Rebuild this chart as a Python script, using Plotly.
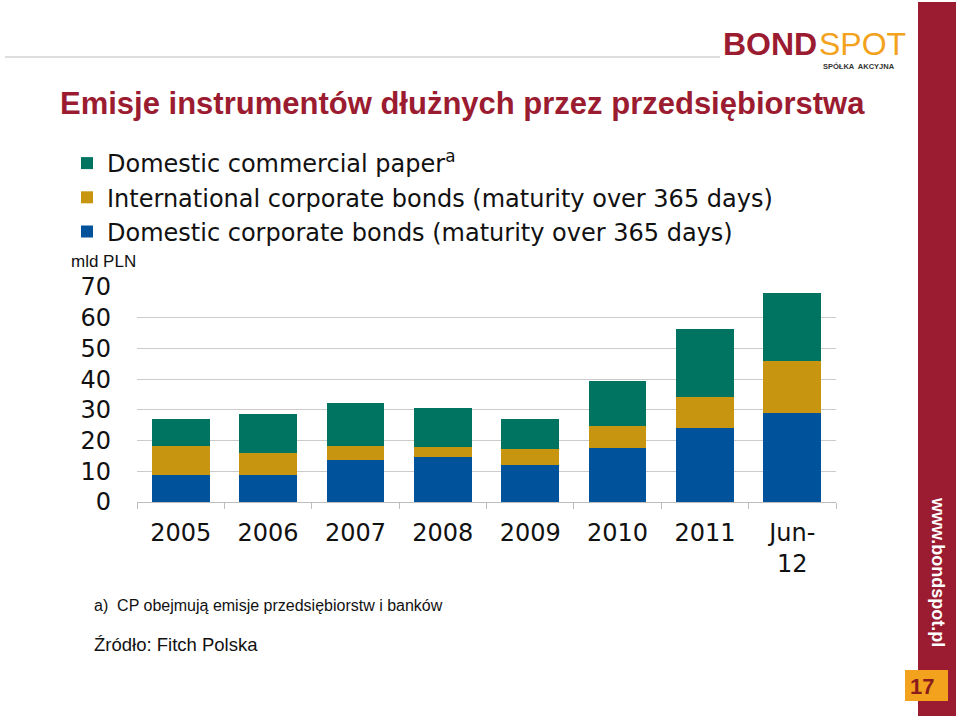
import plotly.graph_objects as go

years = ["2005", "2006", "2007", "2008", "2009", "2010", "2011", "Jun-<br>12"]
domestic_bonds = [8.9, 8.7, 13.7, 14.7, 12.1, 17.5, 24.1, 28.9]
international_bonds = [9.4, 7.3, 4.6, 3.2, 5.1, 7.1, 10.1, 17.1]
commercial_paper = [8.6, 12.8, 13.8, 12.8, 9.9, 14.9, 22.2, 22.1]

series_names = [
    "Domestic corporate bonds (maturity over 365 days)",
    "International corporate bonds (maturity over 365 days)",
    "Domestic commercial paper<sup>a</sup>",
]
series_colors = ["#00529B", "#C7950F", "#007460"]

W, H = 960, 716
RED = "#9B1C31"
ORANGE = "#F3A21D"
TXT = "#111111"

fig = go.Figure()
for name, vals, col in zip(series_names,
                           [domestic_bonds, international_bonds, commercial_paper],
                           series_colors):
    fig.add_trace(go.Bar(x=years, y=vals, name=name, marker_color=col,
                         marker_line_width=0, width=0.66))

fig.update_layout(
    width=W, height=H,
    margin=dict(l=0, r=0, t=0, b=0, autoexpand=False),
    paper_bgcolor="white", plot_bgcolor="white",
    barmode="stack",
    showlegend=True,
    legend=dict(
        x=67 / W, y=1 - 141 / H, xanchor="left", yanchor="top",
        traceorder="reversed",
        font=dict(family="DejaVu Sans", size=24, color=TXT),
        bgcolor="rgba(0,0,0,0)",
        itemwidth=30,
        tracegroupgap=0,
    ),
    xaxis=dict(
        domain=[137 / W, 836 / W],
        showline=True, linecolor="#BDBDBD", linewidth=1,
        ticks="outside", ticklen=6, tickcolor="#BDBDBD",
        tickson="boundaries",
        tickfont=dict(family="DejaVu Sans", size=24, color=TXT),
        ticklabelstandoff=9,
        showgrid=False, automargin=False,
    ),
    yaxis=dict(
        domain=[1 - 502 / H, 1 - 287 / H],
        range=[0, 70],
        dtick=10,
        showgrid=True, gridcolor="#CBCBCB", gridwidth=1,
        zeroline=False,
        tickfont=dict(family="DejaVu Sans", size=24, color=TXT),
        ticklabelstandoff=25, automargin=False,
    ),
)

# slide decoration
fig.add_shape(type="line", xref="paper", yref="paper",
              x0=5 / W, x1=720 / W, y0=1 - 57 / H, y1=1 - 57 / H,
              line=dict(color="#BBBBBB", width=1))
fig.add_shape(type="rect", xref="paper", yref="paper",
              x0=918 / W, x1=956 / W, y0=0, y1=1 - 2 / H,
              fillcolor=RED, line_width=0)
fig.add_shape(type="rect", xref="paper", yref="paper",
              x0=905 / W, x1=948 / W, y0=1 - 701 / H, y1=1 - 670 / H,
              fillcolor=ORANGE, line_width=0)

annotations = [
    dict(text="<b>Emisje instrumentów dłużnych przez przedsiębiorstwa</b>",
         x=58 / W, y=1 - 104 / H, xanchor="left", yanchor="middle",
         font=dict(family="Liberation Sans", size=31, color=RED)),
    dict(text="mld PLN", x=69 / W, y=1 - 261 / H, xanchor="left", yanchor="middle",
         font=dict(family="Liberation Sans", size=17, color=TXT)),
    dict(text="a)  CP obejmują emisje przedsiębiorstw i banków",
         x=92 / W, y=1 - 605 / H, xanchor="left", yanchor="middle",
         font=dict(family="Liberation Sans", size=16, color=TXT)),
    dict(text="Źródło: Fitch Polska",
         x=92 / W, y=1 - 644 / H, xanchor="left", yanchor="middle",
         font=dict(family="Liberation Sans", size=18.5, color=TXT)),
    dict(text="<b>BOND</b>", x=819 / W, y=1 - 44 / H, xanchor="right", yanchor="middle",
         font=dict(family="Liberation Sans", size=32, color=RED)),
    dict(text="SPOT", x=817 / W, y=1 - 44 / H, xanchor="left", yanchor="middle",
         font=dict(family="Liberation Sans", size=32, color=ORANGE)),
    dict(text="<b>SPÓŁKA  AKCYJNA</b>", x=897 / W, y=1 - 67 / H, xanchor="right", yanchor="middle",
         font=dict(family="Liberation Sans", size=7.5, color="#333333")),
    dict(text="<b>www.bondspot.pl</b>", x=938 / W, y=1 - 572 / H, textangle=90,
         xanchor="center", yanchor="middle",
         font=dict(family="Liberation Sans", size=18, color="white")),
    dict(text="<b>17</b>", x=922 / W, y=1 - 686 / H, xanchor="center", yanchor="middle",
         font=dict(family="Liberation Sans", size=22, color="#8A1C1C")),
]
for a in annotations:
    a.update(xref="paper", yref="paper", showarrow=False)
    fig.add_annotation(**a)

fig.write_html("out.html", config={"displayModeBar": False},
               post_script="document.body.style.margin='0';document.body.style.overflow='hidden';")
